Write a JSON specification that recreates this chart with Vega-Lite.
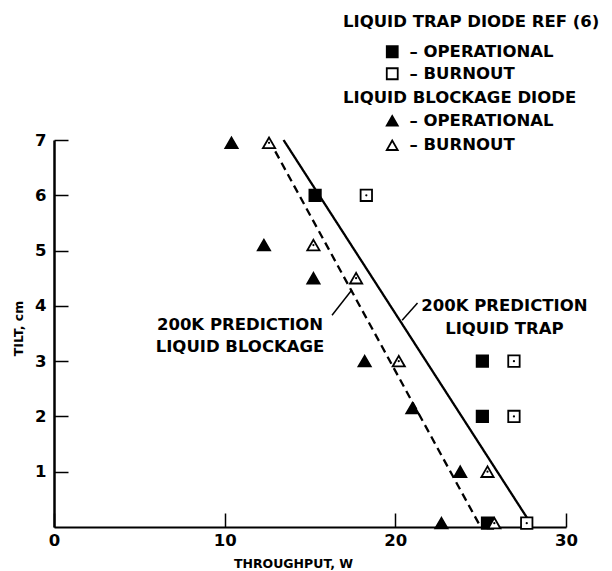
{
  "$schema": "https://vega.github.io/schema/vega-lite/v6.json",
  "width": 512,
  "height": 387,
  "autosize": {"type": "none"},
  "padding": {"left": 54, "top": 140, "right": 46, "bottom": 44},
  "background": "white",
  "datasets": {
    "trap": [
      {"throughput": 15.3, "tilt": 6.0, "status": "OPERATIONAL"},
      {"throughput": 25.1, "tilt": 3.0, "status": "OPERATIONAL"},
      {"throughput": 25.1, "tilt": 2.0, "status": "OPERATIONAL"},
      {"throughput": 25.4, "tilt": 0.07, "status": "OPERATIONAL"},
      {"throughput": 18.3, "tilt": 6.0, "status": "BURNOUT"},
      {"throughput": 26.95, "tilt": 3.0, "status": "BURNOUT"},
      {"throughput": 26.95, "tilt": 2.0, "status": "BURNOUT"},
      {"throughput": 27.7, "tilt": 0.07, "status": "BURNOUT"}
    ],
    "blockage": [
      {"throughput": 10.4, "tilt": 6.95, "status": "OPERATIONAL"},
      {"throughput": 12.3, "tilt": 5.1, "status": "OPERATIONAL"},
      {"throughput": 15.2, "tilt": 4.5, "status": "OPERATIONAL"},
      {"throughput": 18.2, "tilt": 3.0, "status": "OPERATIONAL"},
      {"throughput": 21.0, "tilt": 2.15, "status": "OPERATIONAL"},
      {"throughput": 23.8, "tilt": 1.0, "status": "OPERATIONAL"},
      {"throughput": 22.7, "tilt": 0.07, "status": "OPERATIONAL"},
      {"throughput": 12.6, "tilt": 6.95, "status": "BURNOUT"},
      {"throughput": 15.2, "tilt": 5.1, "status": "BURNOUT"},
      {"throughput": 17.7, "tilt": 4.5, "status": "BURNOUT"},
      {"throughput": 20.2, "tilt": 3.0, "status": "BURNOUT"},
      {"throughput": 25.4, "tilt": 1.0, "status": "BURNOUT"},
      {"throughput": 25.8, "tilt": 0.07, "status": "BURNOUT"}
    ],
    "prediction": [
      {"model": "LIQUID TRAP", "throughput": 13.45, "tilt": 7.0},
      {"model": "LIQUID TRAP", "throughput": 27.75, "tilt": 0.15},
      {"model": "LIQUID BLOCKAGE", "throughput": 12.6, "tilt": 7.0},
      {"model": "LIQUID BLOCKAGE", "throughput": 25.0, "tilt": 0.0}
    ]
  },
  "config": {
    "font": "DejaVu Sans",
    "view": {"stroke": null},
    "axis": {
      "grid": false,
      "domainColor": "black",
      "tickColor": "black",
      "labelColor": "black",
      "titleColor": "black",
      "labelFont": "DejaVu Sans",
      "labelFontWeight": "bold",
      "labelFontSize": 16.5,
      "titleFont": "DejaVu Sans",
      "titleFontWeight": "bold",
      "titleFontSize": 12.5
    },
    "legend": {
      "titleFont": "DejaVu Sans",
      "titleFontWeight": "bold",
      "titleFontSize": 16.5,
      "titleColor": "black",
      "titleLimit": 400,
      "labelFont": "DejaVu Sans",
      "labelFontWeight": "bold",
      "labelFontSize": 16.5,
      "labelColor": "black",
      "labelLimit": 300,
      "padding": 0,
      "symbolStrokeColor": "black",
      "symbolStrokeWidth": 1.8,
      "symbolSize": 120,
      "symbolOffset": 41,
      "labelOffset": 9
    }
  },
  "resolve": {"scale": {"fill": "independent"}},
  "layer": [
    {
      "data": {"name": "prediction"},
      "mark": {"type": "line", "color": "black", "strokeWidth": 2.3},
      "encoding": {
        "x": {
          "field": "throughput",
          "type": "quantitative",
          "scale": {"domain": [0, 30], "nice": false, "zero": false},
          "axis": {
            "values": [0, 10, 20, 30],
            "format": "d",
            "tickSize": -14,
            "tickWidth": 1.5,
            "domainWidth": 2,
            "labelPadding": 19,
            "labelFlush": false,
            "title": "THROUGHPUT, W",
            "titleX": 239,
            "titleY": 36,
            "titleBaseline": "middle",
            "titleAlign": "center"
          }
        },
        "y": {
          "field": "tilt",
          "type": "quantitative",
          "scale": {"domain": [0, 7], "nice": false, "zero": false},
          "axis": {
            "values": [1, 2, 3, 4, 5, 6, 7],
            "format": "d",
            "tickSize": -14,
            "tickWidth": 1.5,
            "domainWidth": 2.5,
            "labelPadding": 22,
            "labelFlush": false,
            "title": "TILT, cm",
            "titleX": -36,
            "titleY": 188,
            "titleAngle": -90,
            "titleBaseline": "middle",
            "titleAlign": "center"
          }
        },
        "detail": {"field": "model"},
        "strokeDash": {
          "field": "model",
          "type": "nominal",
          "scale": {"domain": ["LIQUID TRAP", "LIQUID BLOCKAGE"], "range": [[1, 0], [8, 5]]},
          "legend": null
        }
      }
    },
    {
      "data": {"values": [{}]},
      "mark": {"type": "rule", "color": "black", "strokeWidth": 1.5},
      "encoding": {
        "x": {"datum": 20.4},
        "y": {"datum": 3.74},
        "x2": {"datum": 21.3},
        "y2": {"datum": 4.05}
      }
    },
    {
      "data": {"values": [{}]},
      "mark": {"type": "rule", "color": "black", "strokeWidth": 1.5},
      "encoding": {
        "x": {"datum": 16.29},
        "y": {"datum": 3.83},
        "x2": {"datum": 17.46},
        "y2": {"datum": 4.29}
      }
    },
    {
      "data": {"values": [{}]},
      "mark": {
        "type": "text",
        "text": ["200K PREDICTION", "LIQUID TRAP"],
        "font": "DejaVu Sans",
        "fontWeight": "bold",
        "fontSize": 16.5,
        "lineHeight": 23,
        "align": "center",
        "baseline": "middle",
        "color": "black"
      },
      "encoding": {"x": {"datum": 26.39}, "y": {"datum": 4.0}}
    },
    {
      "data": {"values": [{}]},
      "mark": {
        "type": "text",
        "text": ["200K PREDICTION", "LIQUID BLOCKAGE"],
        "font": "DejaVu Sans",
        "fontWeight": "bold",
        "fontSize": 16.5,
        "lineHeight": 22,
        "align": "center",
        "baseline": "middle",
        "color": "black"
      },
      "encoding": {"x": {"datum": 10.9}, "y": {"datum": 3.66}}
    },
    {
      "data": {"name": "trap"},
      "mark": {"type": "point", "shape": "square", "filled": true, "size": 130, "stroke": "black", "strokeWidth": 1.8, "opacity": 1},
      "encoding": {
        "x": {"field": "throughput", "type": "quantitative"},
        "y": {"field": "tilt", "type": "quantitative"},
        "fill": {
          "field": "status",
          "type": "nominal",
          "scale": {"domain": ["OPERATIONAL", "BURNOUT"], "range": ["black", "white"]},
          "legend": {
            "title": "LIQUID TRAP DIODE REF (6)",
            "orient": "none",
            "legendX": 289,
            "legendY": -126,
            "symbolType": "square",
            "titlePadding": 13,
            "rowPadding": 3,
            "labelExpr": "'– ' + datum.label"
          }
        }
      }
    },
    {
      "data": {"name": "blockage"},
      "mark": {"type": "point", "shape": "triangle-up", "filled": true, "size": 150, "stroke": "black", "strokeWidth": 1.8, "opacity": 1},
      "encoding": {
        "x": {"field": "throughput", "type": "quantitative"},
        "y": {"field": "tilt", "type": "quantitative"},
        "fill": {
          "field": "status",
          "type": "nominal",
          "scale": {"domain": ["OPERATIONAL", "BURNOUT"], "range": ["black", "white"]},
          "legend": {
            "title": "LIQUID BLOCKAGE DIODE",
            "orient": "none",
            "legendX": 289,
            "legendY": -50,
            "symbolType": "triangle-up",
            "titlePadding": 6,
            "rowPadding": 6.5,
            "labelExpr": "'– ' + datum.label"
          }
        }
      }
    },
    {
      "data": {"name": "trap"},
      "transform": [{"filter": "datum.status === 'BURNOUT'"}],
      "mark": {"type": "point", "shape": "circle", "filled": true, "size": 5, "color": "black", "opacity": 1},
      "encoding": {
        "x": {"field": "throughput", "type": "quantitative"},
        "y": {"field": "tilt", "type": "quantitative"}
      }
    },
    {
      "data": {"name": "blockage"},
      "transform": [{"filter": "datum.status === 'BURNOUT'"}],
      "mark": {"type": "point", "shape": "circle", "filled": true, "size": 5, "color": "black", "opacity": 1},
      "encoding": {
        "x": {"field": "throughput", "type": "quantitative"},
        "y": {"field": "tilt", "type": "quantitative"}
      }
    }
  ]
}
